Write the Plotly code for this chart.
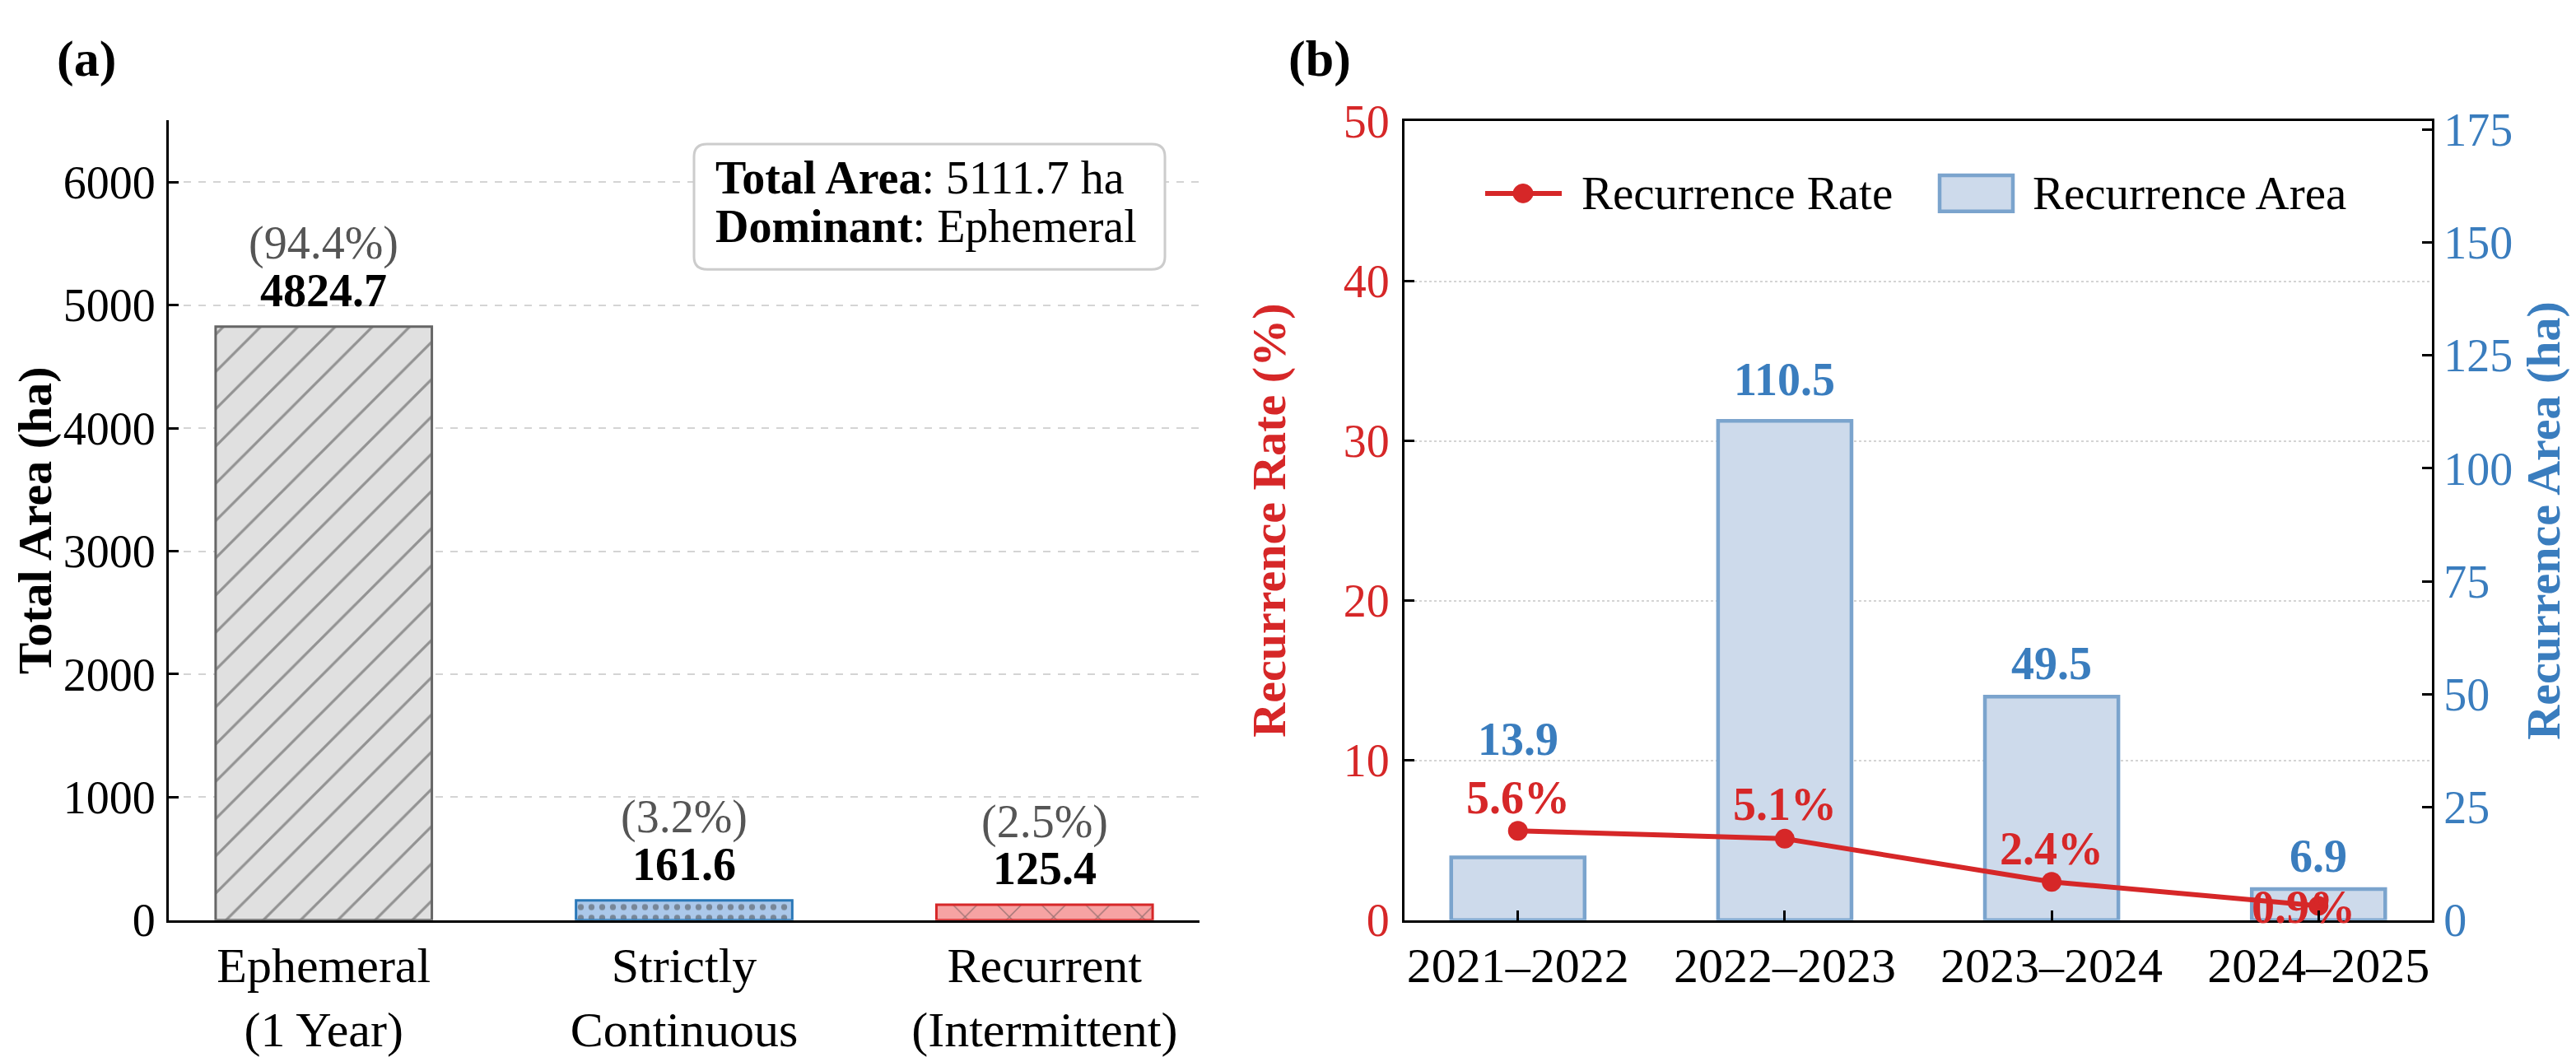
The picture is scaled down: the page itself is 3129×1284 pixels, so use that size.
import plotly.graph_objects as go

# ---------------- data ----------------
categories = ["Ephemeral<br>(1 Year)", "Strictly<br>Continuous", "Recurrent<br>(Intermittent)"]
category_names = ["Ephemeral", "Strictly Continuous", "Recurrent"]
area_values = [4824.7, 161.6, 125.4]
area_ticks = [0, 1000, 2000, 3000, 4000, 5000, 6000]

periods = ["2021–2022", "2022–2023", "2023–2024", "2024–2025"]
recurrence_rate = [5.6, 5.1, 2.4, 0.9]
recurrence_area = [13.9, 110.5, 49.5, 6.9]
rate_ticks = [0, 10, 20, 30, 40, 50]
area_b_ticks = [0, 25, 50, 75, 100, 125, 150, 175]
legend_names = ["Recurrence Rate", "Recurrence Area"]

# ---------------- style ----------------
W, H = 3129, 1284          # target picture
M = 8                      # default page margin of the html body
FW, FH = W - M, H - M      # figure size so that it ends at the window edge
FONT = "Liberation Serif"
RED = "#d62728"
BLUE_TXT = "#3a7dbe"
BAR_B_FILL = "#cddaeb"
BAR_B_EDGE = "#7ba4cd"
FS = 56


def px(x):
    return (x - M) / FW


def py(y):
    return 1 - (y - M) / FH


fig = go.Figure()

# ---------- panel (a) ----------
total = sum(area_values)
pcts = [v / total * 100 for v in area_values]
dominant = category_names[area_values.index(max(area_values))]
xa = list(range(len(area_values)))

fig.add_trace(go.Bar(
    x=xa, y=area_values, width=0.6, xaxis="x", yaxis="y",
    marker=dict(
        color=["#e0e0e0", "#abc8ea", "#f6a3a3"],
        line=dict(color=["#666666", "#2a78b8", RED], width=3),
        pattern=dict(shape=["/", ".", "x"],
                     fgcolor=["#555555", "#2a78b8", RED],
                     size=[32, 13, 38], solidity=[0.1, 0.25, 0.07],
                     fillmode="overlay"),
    ),
    showlegend=False, hoverinfo="skip",
))

annotations = []
for i, (v, p) in enumerate(zip(area_values, pcts)):
    annotations.append(dict(x=i, y=v, xref="x", yref="y", text=f"<b>{v:.1f}</b>",
                            showarrow=False, yshift=44, yanchor="middle",
                            font=dict(family=FONT, size=FS, color="black")))
    annotations.append(dict(x=i, y=v, xref="x", yref="y", text=f"({p:.1f}%)",
                            showarrow=False, yshift=101, yanchor="middle",
                            font=dict(family=FONT, size=FS, color="#555555")))

# info box (rounded)
bx0, bx1, by0, by1, r = 843, 1415, 152, 312, 16
path = (f"M {px(bx0 + r)},{py(by0)} L {px(bx1 - r)},{py(by0)} "
        f"Q {px(bx1)},{py(by0)} {px(bx1)},{py(by0 + r)} L {px(bx1)},{py(by1 - r)} "
        f"Q {px(bx1)},{py(by1)} {px(bx1 - r)},{py(by1)} L {px(bx0 + r)},{py(by1)} "
        f"Q {px(bx0)},{py(by1)} {px(bx0)},{py(by1 - r)} L {px(bx0)},{py(by0 + r)} "
        f"Q {px(bx0)},{py(by0)} {px(bx0 + r)},{py(by0)} Z")
shapes = [dict(type="path", path=path, xref="paper", yref="paper",
               line=dict(color="#cccccc", width=3), fillcolor="white", layer="above")]
annotations.append(dict(x=px(867), y=py(195), xref="paper", yref="paper",
                        text=f"<b>Total Area</b>: {total:.1f} ha", showarrow=False,
                        xanchor="left", yanchor="middle",
                        font=dict(family=FONT, size=FS, color="black")))
annotations.append(dict(x=px(867), y=py(257), xref="paper", yref="paper",
                        text=f"<b>Dominant</b>: {dominant}", showarrow=False,
                        xanchor="left", yanchor="middle",
                        font=dict(family=FONT, size=FS, color="black")))

# ---------- panel (b) ----------
xb = list(range(len(periods)))
fig.add_trace(go.Bar(
    x=xb, y=recurrence_area, width=0.5, xaxis="x2", yaxis="y2",
    name=legend_names[1],
    marker=dict(color=BAR_B_FILL, line=dict(color=BAR_B_EDGE, width=4.5)),
    showlegend=False, hoverinfo="skip",
))
fig.add_trace(go.Scatter(
    x=xb, y=recurrence_rate, xaxis="x2", yaxis="y3", mode="lines+markers",
    name=legend_names[0],
    line=dict(color=RED, width=6), marker=dict(color=RED, size=24),
    showlegend=False, hoverinfo="skip",
))

rate_shift = [40, 42, 40, -2]
rate_xshift = [0, 0, 0, -18]
bar_shift = [144, 50, 40, 40]
for i, (rv, av) in enumerate(zip(recurrence_rate, recurrence_area)):
    annotations.append(dict(x=i, y=rv, xref="x2", yref="y3", text=f"<b>{rv:.1f}%</b>",
                            showarrow=False, yshift=rate_shift[i], xshift=rate_xshift[i],
                            yanchor="middle",
                            font=dict(family=FONT, size=FS, color=RED)))
    annotations.append(dict(x=i, y=av, xref="x2", yref="y2", text=f"<b>{av:.1f}</b>",
                            showarrow=False, yshift=bar_shift[i], yanchor="middle",
                            font=dict(family=FONT, size=FS, color=BLUE_TXT)))

# custom legend (large symbols like the reference)
ly = 215
shapes += [
    dict(type="line", xref="paper", yref="paper", x0=px(1804), x1=px(1897),
         y0=py(ly), y1=py(ly), line=dict(color=RED, width=6)),
    dict(type="circle", xref="paper", yref="paper", x0=px(1838), x1=px(1862),
         y0=py(ly + 12), y1=py(ly - 12), fillcolor=RED, line=dict(color=RED, width=1)),
    dict(type="rect", xref="paper", yref="paper", x0=px(2356), x1=px(2445),
         y0=py(ly + 23), y1=py(ly - 23), fillcolor=BAR_B_FILL,
         line=dict(color=BAR_B_EDGE, width=4.5)),
]
annotations += [
    dict(x=px(1919), y=py(ly), xref="paper", yref="paper", text=legend_names[0],
         showarrow=False, xanchor="left", yanchor="middle",
         font=dict(family=FONT, size=57, color="black")),
    dict(x=px(2467), y=py(ly), xref="paper", yref="paper", text=legend_names[1],
         showarrow=False, xanchor="left", yanchor="middle",
         font=dict(family=FONT, size=57, color="black")),
]

# axis titles & panel labels
annotations += [
    dict(x=px(42), y=(py(1143) + py(122)) / 2, xref="paper", yref="paper",
         text="<b>Total Area (ha)</b>", textangle=-90, showarrow=False,
         xanchor="center", yanchor="middle", font=dict(family=FONT, size=58, color="black")),
    dict(x=px(1542), y=(py(1143) + py(123)) / 2, xref="paper", yref="paper",
         text="<b>Recurrence Rate (%)</b>", textangle=-90, showarrow=False,
         xanchor="center", yanchor="middle", font=dict(family=FONT, size=58, color=RED)),
    dict(x=px(3090), y=(py(1143) + py(123)) / 2, xref="paper", yref="paper",
         text="<b>Recurrence Area (ha)</b>", textangle=-90, showarrow=False,
         xanchor="center", yanchor="middle", font=dict(family=FONT, size=58, color=BLUE_TXT)),
    dict(x=px(105), y=py(43), xref="paper", yref="paper", text="<b>(a)</b>",
         showarrow=False, xanchor="center", yanchor="middle",
         font=dict(family=FONT, size=62, color="black")),
    dict(x=px(1603), y=py(43), xref="paper", yref="paper", text="<b>(b)</b>",
         showarrow=False, xanchor="center", yanchor="middle",
         font=dict(family=FONT, size=62, color="black")),
]

axis_common = dict(showline=True, linecolor="black", linewidth=3, zeroline=False)

fig.update_layout(
    width=FW, height=FH, autosize=False,
    margin=dict(l=0, r=0, t=0, b=0),
    paper_bgcolor="white", plot_bgcolor="white",
    font=dict(family=FONT, size=FS, color="black"),
    showlegend=False,
    xaxis=dict(domain=[px(205), px(1457)], anchor="y", range=[-0.43, 2.43],
               tickmode="array", tickvals=xa, ticktext=categories, ticks="",
               showgrid=False, tickfont=dict(family=FONT, size=60, color="black"),
               **axis_common),
    yaxis=dict(domain=[py(1143), py(122)], anchor="x", range=[0, 6500],
               tickmode="array", tickvals=area_ticks, ticks="inside", ticklen=12,
               tickwidth=2.5, tickcolor="black", ticklabelstandoff=2,
               showgrid=True, gridcolor="#d4d4d4", gridwidth=2, griddash="dash",
               tickfont=dict(family=FONT, size=FS, color="black"), **axis_common),
    xaxis2=dict(domain=[px(1706), px(2954)], anchor="y2", range=[-0.425, 3.425],
                tickmode="array", tickvals=xb, ticktext=periods, ticks="inside",
                ticklen=12, tickwidth=2.5, tickcolor="black", mirror=True,
                showgrid=False, tickfont=dict(family=FONT, size=60, color="black"),
                **axis_common),
    yaxis2=dict(domain=[py(1143), py(123)], anchor="x2", side="right",
                range=[0, max(recurrence_area) * 1.6],
                tickmode="array", tickvals=area_b_ticks, ticks="inside", ticklen=12,
                tickwidth=2.5, tickcolor="black", ticklabelstandoff=0,
                showgrid=False, tickfont=dict(family=FONT, size=FS, color=BLUE_TXT),
                **axis_common),
    yaxis3=dict(overlaying="y2", anchor="x2", side="left", range=[0, 50],
                tickmode="array", tickvals=rate_ticks, ticks="inside", ticklen=12,
                tickwidth=2.5, tickcolor="black", ticklabelstandoff=4,
                showgrid=True, gridcolor="#d4d4d4", gridwidth=2, griddash="dot",
                tickfont=dict(family=FONT, size=FS, color=RED), **axis_common),
    annotations=annotations,
    shapes=shapes,
)

fig.write_html("out.html")
